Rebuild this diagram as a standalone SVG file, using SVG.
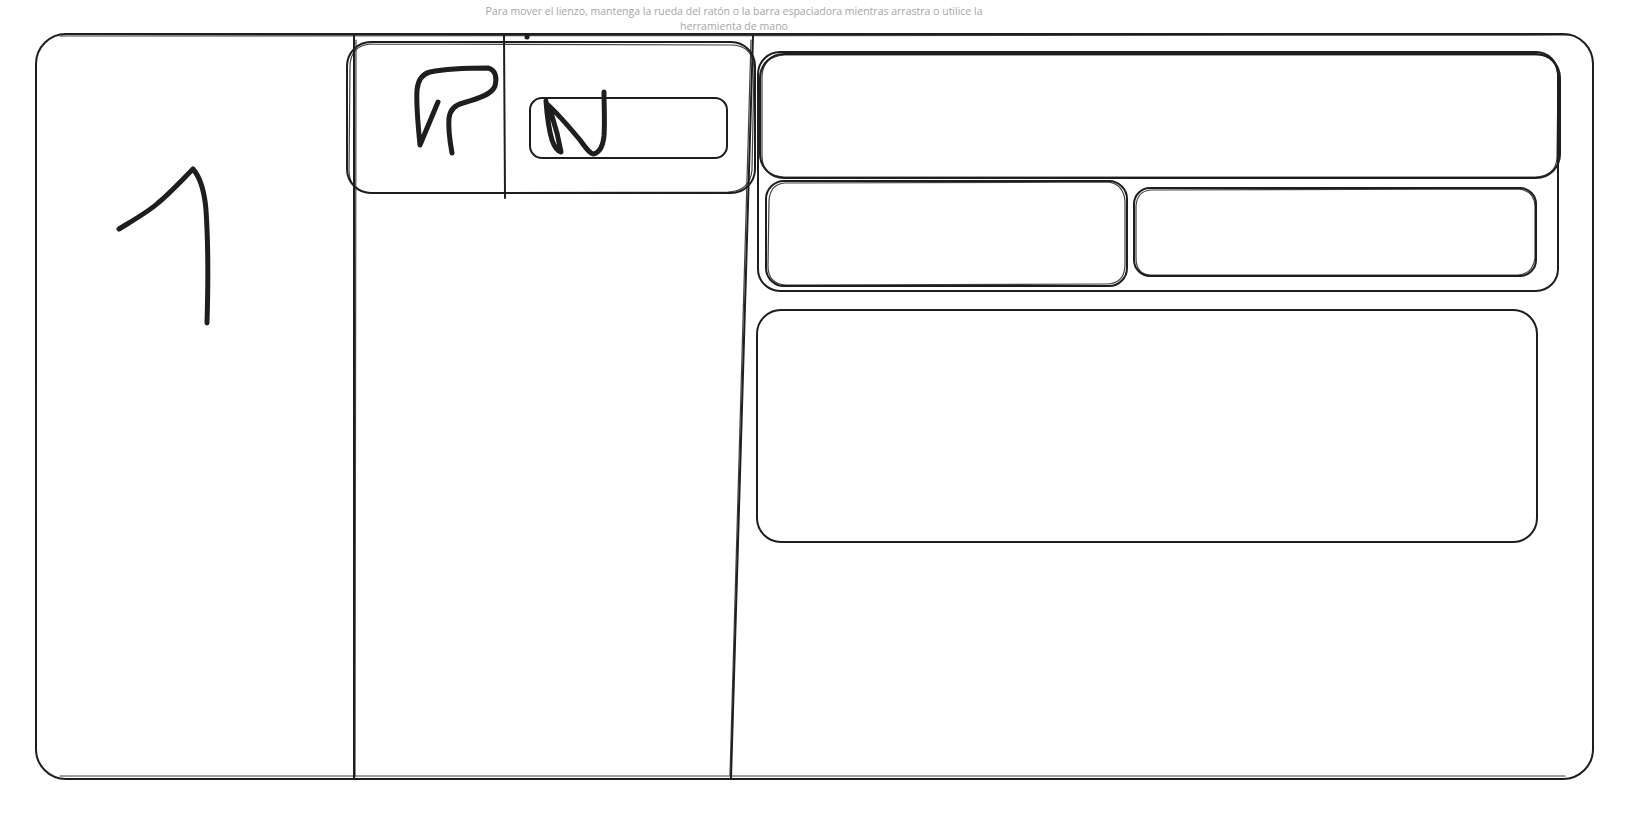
<svg xmlns="http://www.w3.org/2000/svg" width="1646" height="819" viewBox="0 0 1646 819">
<style>
.s{fill:none;stroke:#1e1e1e;stroke-width:2;stroke-linecap:round;stroke-linejoin:round}
.t{fill:none;stroke:#1e1e1e;stroke-width:1.2;stroke-linecap:round;opacity:0.85}
.ink{fill:none;stroke:#1e1e1e;stroke-width:5;stroke-linecap:round;stroke-linejoin:round}
.hint{font-family:"Open Sans","Liberation Sans",sans-serif;font-size:11px;fill:#a6a6a6}
</style>
<rect width="1646" height="819" fill="#ffffff"/>
<g id="hint">
<text class="hint" x="734" y="15" text-anchor="middle" textLength="497" lengthAdjust="spacingAndGlyphs">Para mover el lienzo, mantenga la rueda del ratón o la barra espaciadora mientras arrastra o utilice la</text>
<text class="hint" x="734" y="29.5" text-anchor="middle" textLength="108" lengthAdjust="spacingAndGlyphs">herramienta de mano</text>
</g>
<g id="frame">
<rect class="s" x="36" y="34" width="1557" height="745" rx="30"/>
<path class="t" d="M60 36 L1570 35 M60 776 L1565 776"/>
</g>
<g id="column-dividers">
<path class="s" d="M354 36 L354 778"/>
<path class="t" d="M356 40 L355 776"/>
<path class="s" d="M753 36 L731 778"/>
<path class="t" d="M751 40 L730 775"/>
</g>
<g id="node-one">
<path class="ink" d="M119 229 C132 221 148 212 158 203 C170 193 182 180 193 169 C199 176 204 186 206 210 C208 240 208 290 207 323"/>
</g>
<g id="node-header">
<rect class="s" x="347" y="42" width="408" height="151" rx="24"/>
<path class="t" d="M372 44 L732 45 Q753 46 754 68 L752 170 Q750 191 728 192 L372 193 Q349 192 349 170 L350 67 Q350 45 372 44"/>
<path class="s" d="M504 35 L505 198"/>
<circle cx="527" cy="37" r="2.5" fill="#1e1e1e"/>
<path class="ink" d="M438 102 L420 145 C418 125 416 105 417 90 C418 80 422 74 430 72 C445 69 470 68 488 68 C496 70 497 78 495 86 C492 94 480 98 463 103 C455 105 450 110 449 118 C448 130 450 142 452 153"/>
</g>
<g id="node-header-field">
<rect class="s" x="530" y="98" width="197" height="60" rx="12"/>
<path class="ink" d="M546 101 C547 115 549 130 552 140 C554 146 557 151 561 152 C559 140 556 128 552 116 C549 108 546 103 547 104 C556 112 570 128 580 140 C586 148 590 154 594 154 C600 152 603 146 604 136 C605 122 604 105 604 92"/>
</g>
<g id="node-panel">
<rect class="s" x="758" y="52" width="800" height="239" rx="22"/>
</g>
<g id="node-panel-top">
<rect class="s" x="760" y="54" width="800" height="124" rx="24"/>
<path class="t" d="M785 55 L1538 55 Q1557 56 1558 78 L1557 158 Q1556 176 1535 177 L784 177 Q762 176 762 156 L762 76 Q763 56 785 55"/>
</g>
<g id="node-panel-left">
<rect class="s" x="766" y="181" width="361" height="105" rx="18"/>
<path class="t" d="M785 183 L1108 182 Q1124 184 1125 202 L1125 266 Q1124 284 1106 284 L786 285 Q768 284 768 266 L769 201 Q770 184 785 183"/>
</g>
<g id="node-panel-right">
<rect class="s" x="1134" y="188" width="402" height="88" rx="16"/>
<path class="t" d="M1151 190 L1518 189 Q1534 190 1535 206 L1535 258 Q1533 274 1518 275 L1150 275 Q1136 274 1136 258 L1136 206 Q1137 191 1151 190"/>
</g>
<g id="node-content">
<rect class="s" x="757" y="310" width="780" height="232" rx="24"/>
</g>
<g id="connectors"></g>
</svg>
